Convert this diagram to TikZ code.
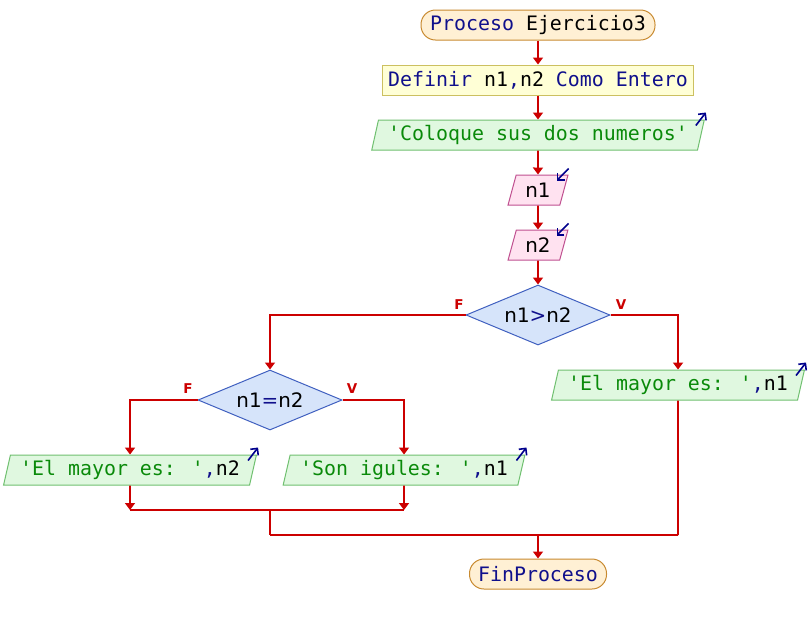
\documentclass[tikz,border=0pt]{standalone}
\usepackage{fontspec}
\setmainfont{DejaVu Sans}
\setsansfont{DejaVu Sans}
\newfontfamily\monof{DejaVu Sans Mono}
\usetikzlibrary{shapes.geometric,arrows.meta}
\definecolor{flow}{HTML}{CC0000}
\definecolor{kw}{HTML}{10108C}
\definecolor{strg}{HTML}{0A8A0A}
\definecolor{termfill}{HTML}{FFF0D4}
\definecolor{termdraw}{HTML}{C88A30}
\definecolor{deffill}{HTML}{FFFFD6}
\definecolor{defdraw}{HTML}{CCC060}
\definecolor{outfill}{HTML}{E0F8E0}
\definecolor{outdraw}{HTML}{70C070}
\definecolor{infill}{HTML}{FFE2F0}
\definecolor{indraw}{HTML}{C05090}
\definecolor{decfill}{HTML}{D6E4FA}
\definecolor{decdraw}{HTML}{4060C0}
\definecolor{ioarrowc}{HTML}{00008C}
\newcommand\txtsz{\fontsize{19.9}{22}\selectfont}
\tikzset{
  terminal/.style={draw=termdraw, fill=termfill, rounded corners=14.5pt, minimum height=30pt, inner sep=0pt, font=\monof\txtsz, line width=1pt},
  defbox/.style={draw=defdraw, fill=deffill, minimum height=30pt, minimum width=311pt, inner sep=0pt, font=\monof\txtsz, line width=1pt},
  iobox/.style={trapezium, trapezium left angle=72, trapezium right angle=108, trapezium stretches=true, minimum height=30pt, inner sep=0pt, font=\monof\txtsz, line width=1pt},
  outbox/.style={iobox, draw=outdraw, fill=outfill},
  inbox/.style={iobox, draw=indraw, fill=infill, font=\sffamily\txtsz},
  decision/.style={diamond, aspect=2.4, draw=decdraw, fill=decfill, minimum width=144pt, minimum height=60pt, inner sep=0pt, font=\sffamily\txtsz, line width=1pt},
  flowline/.style={draw=flow, line width=1.6pt},
  flowarrow/.style={flowline, -{Triangle[width=10pt,length=7pt]}},
  ioarr/.style={draw=ioarrowc, line width=1.6pt, -{Straight Barb[length=5pt,width=10pt]}},
  branchlabel/.style={text=flow, font=\sffamily\bfseries\fontsize{13.5}{13.5}\selectfont, inner sep=0pt}
}
\begin{document}
\begin{tikzpicture}[x=1pt,y=-1pt]
\fill[white] (0,0) rectangle (808,625);
\useasboundingbox (0,0) rectangle (808,625);

\node[terminal, minimum width=234pt] (start) at (538,25) {{\color{kw}Proceso} Ejercicio3};
\node[defbox] (def) at (538,80) {{\color{kw}Definir} n1{\color{kw},}n2 {\color{kw}Como Entero}};
\node[outbox, minimum width=334pt] (out1) at (538,135) {\color{strg}'Coloque sus dos numeros'};
\node[inbox, minimum width=60pt] (in1) at (538,190) {n1};
\node[inbox, minimum width=60pt] (in2) at (538,245) {n2};
\node[decision] (d1) at (538,315) {n1{\color{kw}>}n2};
\node[decision] (d2) at (270,400) {n1{\color{kw}=}n2};
\node[outbox, minimum width=253pt] (o1) at (130,470) {{\color{strg}'El mayor es: '}{\color{kw},}n2};
\node[outbox, minimum width=242pt] (o2) at (404,470) {{\color{strg}'Son igules: '}{\color{kw},}n1};
\node[outbox, minimum width=253pt] (o3) at (678,385) {{\color{strg}'El mayor es: '}{\color{kw},}n1};
\node[terminal, minimum width=137pt] (end) at (538,574) {\color{kw}FinProceso};

\node[branchlabel] (f1) at (459,305) {F};
\node[branchlabel] (v1) at (621,305) {V};
\node[branchlabel] (f2) at (188,389) {F};
\node[branchlabel] (v2) at (352,389) {V};

\coordinate (m1l) at (130,510);
\coordinate (m1r) at (404,510);
\coordinate (m1c) at (270,510);
\coordinate (m2l) at (270,535);
\coordinate (m2r) at (678,535);
\coordinate (m2c) at (538,535);

\draw[flowarrow] (start) -- (def);
\draw[flowarrow] (def) -- (out1);
\draw[flowarrow] (out1) -- (in1);
\draw[flowarrow] (in1) -- (in2);
\draw[flowarrow] (in2) -- (d1);
\draw[flowarrow] (d1.west) -| (d2.north);
\draw[flowarrow] (d1.east) -| (o3.north);
\draw[flowarrow] (d2.west) -| (o1.north);
\draw[flowarrow] (d2.east) -| (o2.north);
\draw[flowarrow] (o1.south) -- (m1l);
\draw[flowarrow] (o2.south) -- (m1r);
\draw[flowline] (m1l) -- (m1r);
\draw[flowline] (m1c) -- (m2l);
\draw[flowline] (o3.south) -- (m2r);
\draw[flowline] (m2l) -- (m2r);
\draw[flowarrow] (m2c) -- (end);

\draw[ioarr] ([shift={(-9,6)}]out1.top right corner) -- ([shift={(1,-7)}]out1.top right corner);
\draw[ioarr] ([shift={(-9,6)}]o1.top right corner) -- ([shift={(1,-7)}]o1.top right corner);
\draw[ioarr] ([shift={(-9,6)}]o2.top right corner) -- ([shift={(1,-7)}]o2.top right corner);
\draw[ioarr] ([shift={(-9,6)}]o3.top right corner) -- ([shift={(1,-7)}]o3.top right corner);
\draw[ioarr] ([shift={(0,-6)}]in1.top right corner) -- ([shift={(-12,6)}]in1.top right corner);
\draw[ioarr] ([shift={(0,-6)}]in2.top right corner) -- ([shift={(-12,6)}]in2.top right corner);
\end{tikzpicture}
\end{document}
